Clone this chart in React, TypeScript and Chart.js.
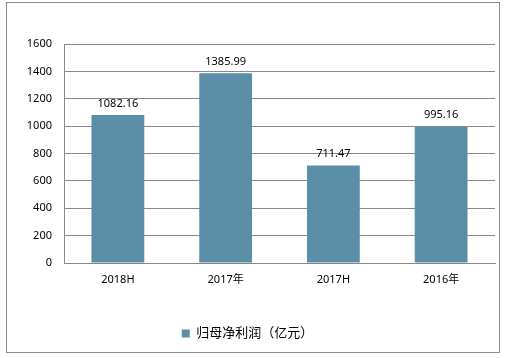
import React, { useEffect, useRef } from "react";
import { Chart, registerables } from "chart.js";

Chart.register(...registerables);

const categories = ["2018H", "2017年", "2017H", "2016年"];
const netProfit = [1082.16, 1385.99, 711.47, 995.16];
const seriesName = "归母净利润（亿元）";
const yTicks = [0, 200, 400, 600, 800, 1000, 1200, 1400, 1600];

const FONT = "'Noto Sans', 'Noto Sans CJK SC', sans-serif";
const BAR = "#5b8fa8";
const GRID = "#888888";

const borderPlugin = {
  id: "outerBorder",
  beforeDraw(chart: any) {
    const ctx = chart.ctx;
    ctx.save();
    ctx.fillStyle = "#ffffff";
    ctx.fillRect(0, 0, chart.width, chart.height);
    ctx.strokeStyle = "#8c8c8c";
    ctx.lineWidth = 1;
    ctx.strokeRect(6.5, 2.5, 493, 350);
    ctx.restore();
  },
};

const valueLabels = {
  id: "valueLabels",
  afterDatasetsDraw(chart: any) {
    const ctx = chart.ctx;
    ctx.save();
    ctx.font = `11px ${FONT}`;
    ctx.fillStyle = "#000000";
    ctx.textAlign = "center";
    ctx.textBaseline = "bottom";
    chart.data.datasets.forEach((ds: any, i: number) => {
      const meta = chart.getDatasetMeta(i);
      meta.data.forEach((bar: any, j: number) => {
        ctx.fillText(String(ds.data[j].toFixed(2)), bar.x, bar.y - 6);
      });
    });
    ctx.restore();
  },
};

export default function App() {
  const ref = useRef<HTMLCanvasElement>(null);
  useEffect(() => {
    document.body.style.margin = "0";
    const chart = new Chart(ref.current!, {
      type: "bar",
      data: {
        labels: categories,
        datasets: [
          {
            label: seriesName,
            data: netProfit,
            backgroundColor: BAR,
            borderWidth: 0,
            barPercentage: 0.49,
            categoryPercentage: 1,
          },
        ],
      },
      options: {
        animation: false,
        responsive: false,
        layout: { padding: { top: 44, right: 13, left: 0, bottom: 8 } },
        plugins: {
          legend: {
            position: "bottom",
            labels: {
              boxWidth: 8,
              boxHeight: 8,
              padding: 10,
              color: "#000000",
              font: { size: 13, family: FONT },
            },
          },
          tooltip: { enabled: false },
        },
        scales: {
          x: {
            grid: { display: false, drawTicks: false },
            border: { display: true, color: GRID, width: 1 },
            ticks: { color: "#000000", font: { size: 11, family: FONT }, padding: 10 },
            afterFit(scale: any) {
              scale.height = 54;
            },
          },
          y: {
            min: 0,
            max: 1600,
            afterBuildTicks(scale: any) {
              scale.ticks = yTicks.map((v) => ({ value: v }));
            },
            grid: { color: GRID, drawTicks: false },
            border: { display: true, color: GRID, width: 1 },
            ticks: {
              color: "#000000",
              font: { size: 11, family: FONT },
              padding: 12,
              callback: (v: any) => String(v),
            },
            afterFit(scale: any) {
              scale.width = 64;
            },
          },
        },
      },
      plugins: [borderPlugin, valueLabels],
    });
    return () => chart.destroy();
  }, []);
  return (
    <div style={{ width: 508, height: 358 }}>
      <canvas ref={ref} width={508} height={358} style={{ display: "block" }} />
    </div>
  );
}
